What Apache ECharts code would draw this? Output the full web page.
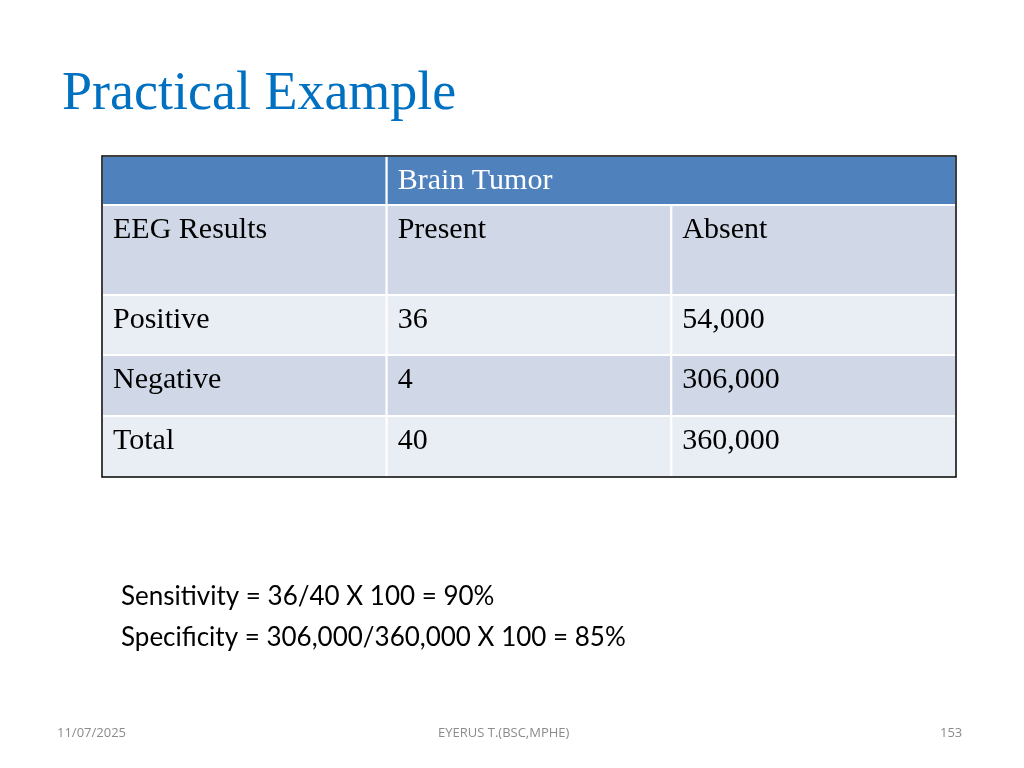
<!DOCTYPE html>
<html><head><meta charset="utf-8">
<script src="https://cdn.jsdelivr.net/npm/echarts@6/dist/echarts.min.js"></script>
<style>html,body{margin:0;background:#fff}#main{width:1024px;height:768px}</style>
</head><body><div id="main"></div>
<script>
// table content
const headerRow = ['', 'Brain Tumor', ''];
const subHeader = ['EEG Results', 'Present', 'Absent'];
const rowLabels = ['Positive', 'Negative', 'Total'];
const present = ['36', '4', '40'];
const absent = ['54,000', '306,000', '360,000'];
const rowEdges = [0, 49, 139, 199, 260, 321];
const rowFills = ['#4F81BD', '#D0D8E8', '#E9EDF4', '#D0D8E8', '#E9EDF4'];

let rows = [headerRow, subHeader];
rowLabels.forEach((r, i) => rows.push([r, present[i], absent[i]]));

let cells = [];
rows.forEach((r, ri) => {
    r.forEach((t, ci) => {
        // header spans columns 1..2
        if (ri === 0 && ci === 2) return;
        let x1 = (ri === 0 && ci === 1) ? 3 : ci + 1;
        cells.push([ci, x1, rowEdges[ri], rowEdges[ri + 1], t, ri]);
    });
});

let chart = echarts.init(document.getElementById('main'));
chart.setOption({
    backgroundColor: '#fff',
    animation: false,
    grid: {left: 102, right: 68, top: 156, height: 321},
    xAxis: {type: 'value', min: 0, max: 3, show: false},
    yAxis: {type: 'value', min: 0, max: 321, inverse: true, show: false},
    graphic: [
        {type: 'text', left: 62, top: 68, style: {text: 'Practical Example', font: '54px "Liberation Serif"', fill: '#0070C0'}},
        {type: 'text', left: 121, top: 576, style: {text: 'Sensitivity = 36/40 X 100 = 90%\nSpecificity = 306,000/360,000 X 100 = 85%', font: '26px Lato', fill: '#000', lineHeight: 41}},
        {type: 'text', left: 57, top: 727, style: {text: '11/07/2025', font: '13px "Open Sans"', fill: '#8B8B8B'}},
        {type: 'text', left: 438, top: 727, style: {text: 'EYERUS T.(BSC,MPHE)', font: '13px "Open Sans"', fill: '#8B8B8B'}},
        {type: 'text', left: 940, top: 727, style: {text: '153', font: '13px "Open Sans"', fill: '#8B8B8B'}},
        {type: 'rect', shape: {x: 102, y: 156, width: 854, height: 321}, style: {fill: 'none', stroke: '#000', lineWidth: 1.5}, z: 100}
    ],
    series: [{
        type: 'custom',
        data: cells,
        renderItem: function (params, api) {
            let p0 = api.coord([api.value(0), api.value(2)]);
            let p1 = api.coord([api.value(1), api.value(3)]);
            let ri = api.value(5);
            return {
                type: 'group',
                children: [
                    {type: 'rect', shape: {x: p0[0], y: p0[1], width: p1[0] - p0[0], height: p1[1] - p0[1]},
                        style: {fill: rowFills[ri], stroke: '#fff', lineWidth: 2}},
                    {type: 'text', x: p0[0] + 11, y: p0[1] + 10,
                        style: {text: cells[params.dataIndex][4], font: '30px "Liberation Serif"', fill: ri === 0 ? '#fff' : '#000'}}
                ]
            };
        }
    }]
});
</script></body></html>
